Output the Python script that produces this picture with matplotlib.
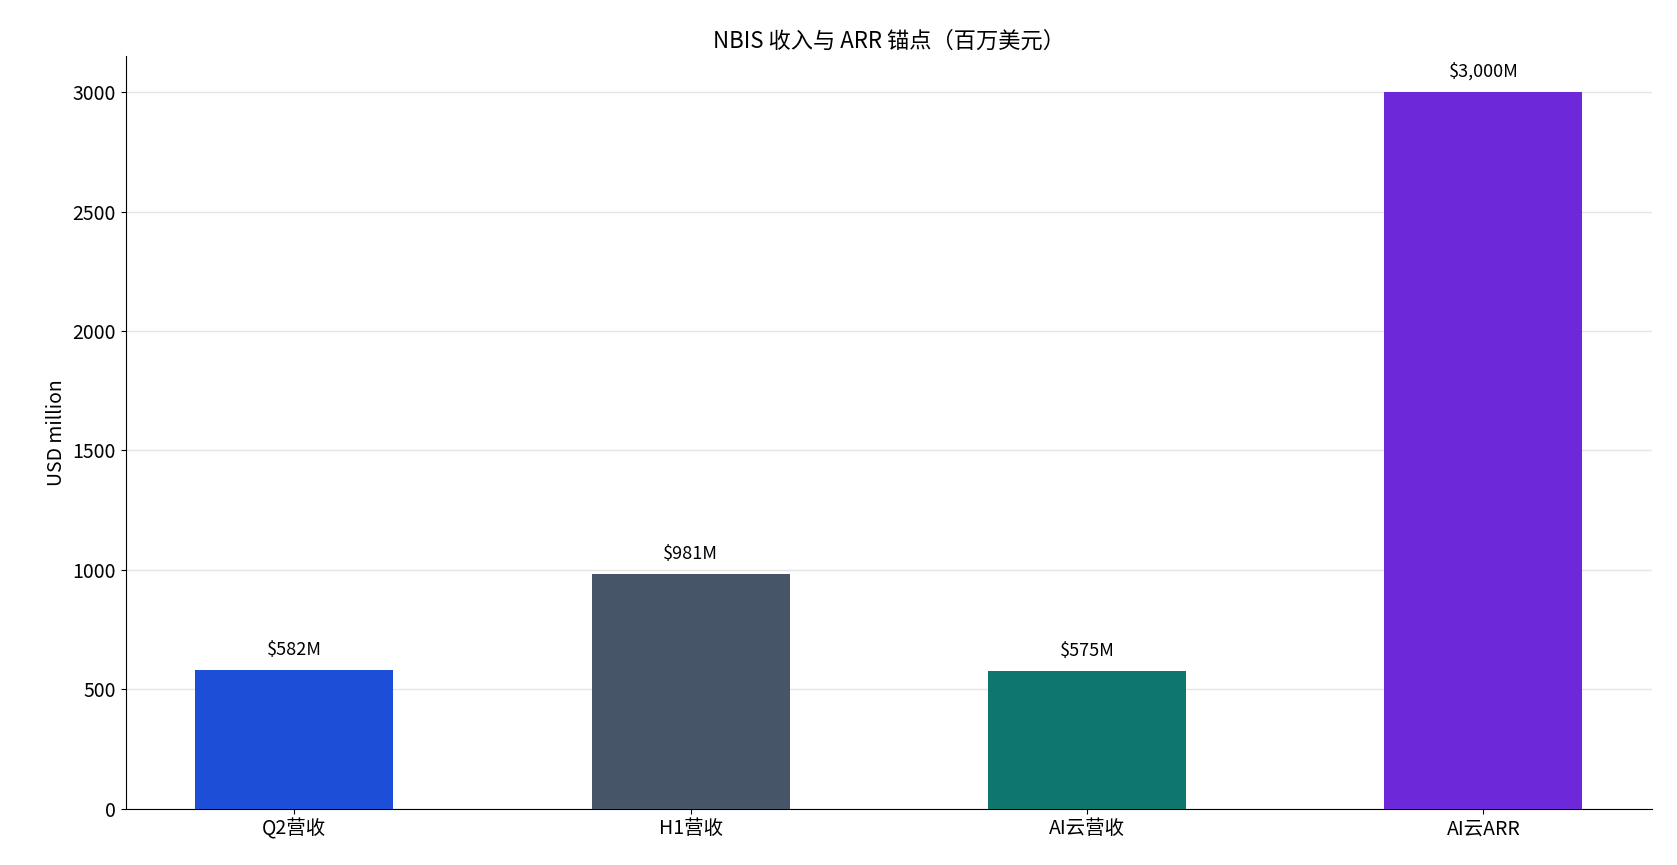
import matplotlib
matplotlib.use("Agg")
import matplotlib.pyplot as plt

plt.rcParams['font.family'] = ['Noto Sans CJK SC', 'DejaVu Sans']

categories = ["Q2营收", "H1营收", "AI云营收", "AI云ARR"]
values = [582, 981, 575, 3000]
labels = ["$582M", "$981M", "$575M", "$3,000M"]
colors = ["#1d4ed8", "#475569", "#0f766e", "#6d28d9"]

fig = plt.figure(figsize=(16.77, 8.65), dpi=100)
ax = fig.add_axes([0.075, 0.065, 0.91, 0.87])
bars = ax.bar(categories, values, width=0.5, color=colors, zorder=3)
for b, t in zip(bars, labels):
    ax.annotate(t, (b.get_x() + b.get_width() / 2, b.get_height()),
                xytext=(0, 8), textcoords="offset points",
                ha="center", va="bottom", fontsize=13)
ax.set_ylim(0, 3150)
ax.set_yticks([0, 500, 1000, 1500, 2000, 2500, 3000])
ax.grid(axis="y", color="#e5e5e5", linewidth=1, zorder=0)
ax.set_ylabel("USD million", fontsize=14)
ax.set_title("NBIS 收入与 ARR 锚点（百万美元）", fontsize=16)
ax.tick_params(labelsize=14)
ax.spines["top"].set_visible(False)
ax.spines["right"].set_visible(False)
fig.savefig("out.png", dpi=100)
